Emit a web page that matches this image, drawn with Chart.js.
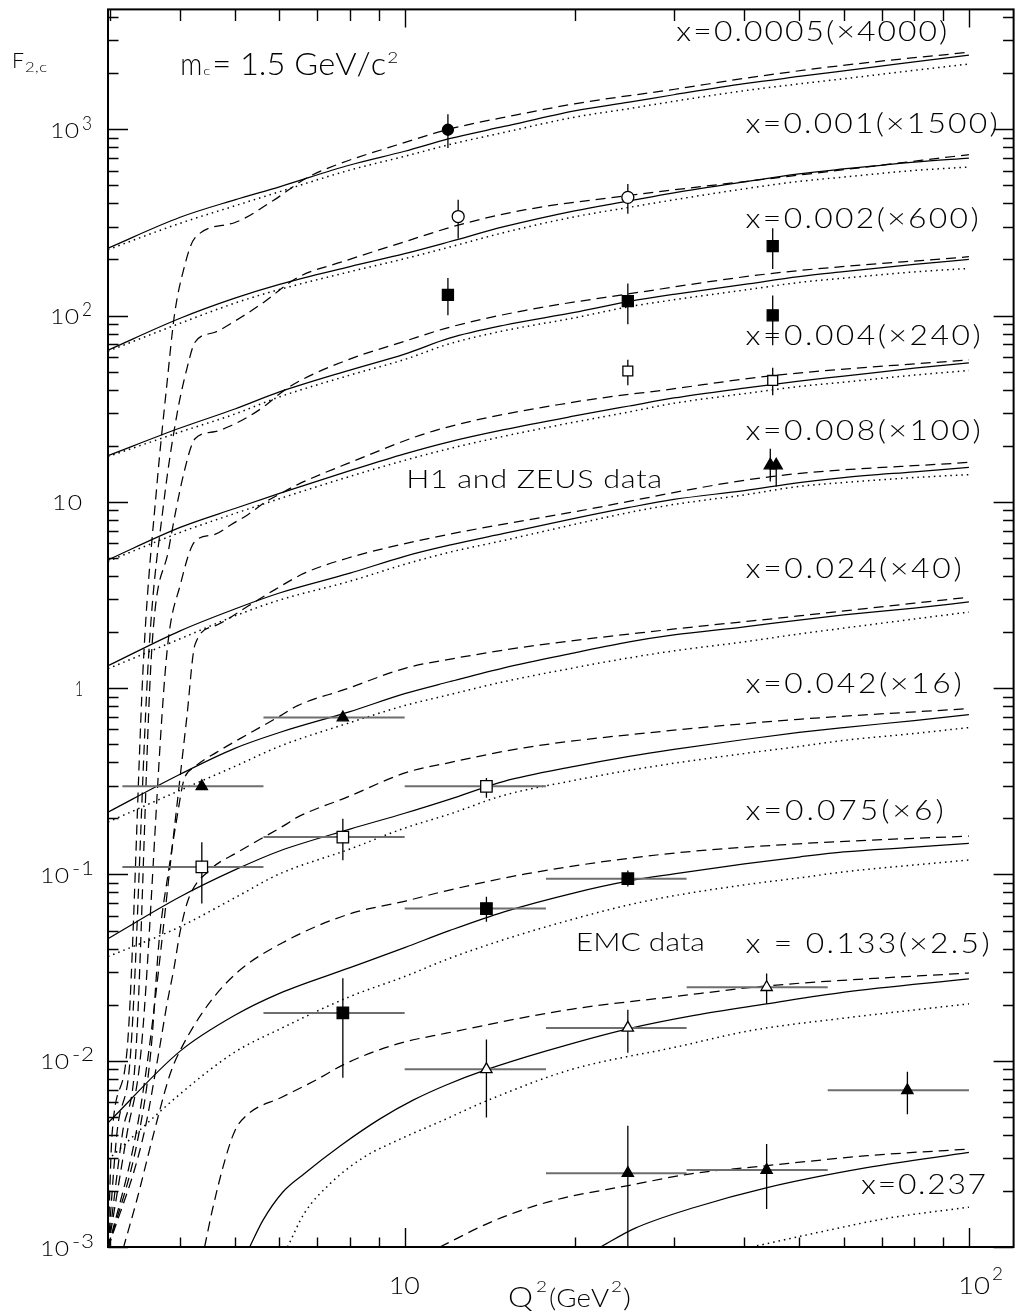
<!DOCTYPE html>
<html>
<head>
<meta charset="utf-8">
<script src="https://cdn.jsdelivr.net/npm/chart.js@4.4.1/dist/chart.umd.min.js"></script>
<style>
  html, body { margin: 0; padding: 0; background: #fff; }
  canvas { display: block; }
</style>
</head>
<body>
<canvas id="chart" width="1023" height="1315" style="width:1023px;height:1315px"></canvas>
<script>
// Q^2 grid (GeV^2) shared by the solid and dotted curves
const Q2 = [2.98, 4, 5, 6, 8, 10, 12, 15, 20, 25, 30, 40, 50, 60, 80, 100];

// x = 0.0005 (x4000)
const sol0005 = [230, 337, 418, 491, 643, 762, 890, 1035, 1255, 1399, 1532, 1757, 1921, 2061, 2300, 2504];
const dot0005 = [226, 313, 388, 462, 604, 716, 827, 962, 1161, 1291, 1413, 1611, 1752, 1867, 2072, 2241];
const dashQ0005 = [2.98, 3.03, 3.22, 3.45, 3.64, 3.79, 3.91, 4.07, 4.24, 4.99, 5.84, 6.70, 7.56, 9.68, 12.0, 15.7, 20.0, 30.1, 41.4, 59.8, 100];
const dash0005 = [0.00098, 0.00405, 0.01126, 1.55, 12.5, 42.9, 101.6, 183, 259, 315, 413, 548, 643, 823, 1002, 1191, 1370, 1640, 1905, 2203, 2592];

// x = 0.001 (x1500)
const sol001 = [65.2, 96.7, 124, 147, 183, 215, 249, 300, 365, 413, 456, 522, 576, 612, 667, 701];
const dot001 = [64.4, 90.9, 116.6, 138, 172, 202, 233, 279, 339, 381, 418, 479, 525, 554, 601, 627];
const dashQ001 = [2.98, 3.09, 3.27, 3.52, 3.74, 3.95, 4.11, 4.25, 4.61, 5.13, 5.56, 6.46, 7.78, 10, 12.49, 16.38, 24.86, 44.5, 100];
const dash001 = [0.00098, 0.00405, 0.01126, 1.55, 9.80, 29.7, 51.6, 71.9, 81.4, 97.9, 114.9, 160, 195, 249, 307, 370, 441, 544, 731];

// x = 0.002 (x600)
const sol002 = [17.7, 24.9, 31.5, 38.9, 51.0, 62.1, 75.6, 88.7, 104, 119, 130, 147, 162, 172, 188, 200];
const dot002 = [17.5, 23.7, 29.6, 36.6, 47.9, 58.1, 70.5, 82.9, 97.2, 111.6, 121.5, 137, 150.5, 158.8, 171.5, 179];
const dashQ002 = [2.98, 3.16, 3.34, 3.56, 3.82, 4.06, 4.25, 4.61, 4.93, 5.28, 5.65, 6.03, 6.46, 7.91, 10, 12.0, 16.38, 24.86, 44.5, 100];
const dash002 = [0.00098, 0.00405, 0.01126, 1.55, 5.63, 14.2, 21.8, 23.8, 25.7, 28.6, 32.7, 38.4, 44.0, 57.7, 72.8, 86.5, 106.7, 130.5, 168, 207];

// x = 0.004 (x240)
const sol004 = [4.88, 7.29, 9.21, 11.1, 14.7, 18.1, 21.0, 24.4, 28.9, 32.7, 36.1, 40.8, 44.5, 47.3, 52.2, 55.8];
const dot004 = [4.80, 6.85, 8.66, 10.4, 13.7, 16.7, 19.3, 22.5, 26.8, 30.4, 33.8, 38.1, 41.6, 43.9, 47.9, 50.7];
const dashQ004 = [2.98, 3.22, 3.41, 3.79, 4.01, 4.25, 4.61, 4.93, 5.28, 5.65, 6.03, 6.46, 7.91, 11.28, 19.69, 29.7, 44.6, 100];
const dash004 = [0.00098, 0.00405, 0.01126, 1.55, 3.66, 6.14, 6.69, 7.56, 8.56, 9.92, 11.08, 12.38, 16.03, 24.06, 34.1, 40.3, 47.5, 57.9];

// x = 0.008 (x100)
const sol008 = [1.318, 2.03, 2.66, 3.24, 4.14, 5.10, 5.85, 6.77, 8.15, 9.33, 10.3, 11.5, 12.7, 13.5, 14.5, 15.3];
const dot008 = [1.271, 1.84, 2.44, 2.97, 3.75, 4.62, 5.36, 6.21, 7.57, 8.77, 9.68, 10.9, 12.1, 12.7, 13.5, 14.0];
const dashQ008 = [2.98, 3.34, 3.52, 3.90, 4.11, 4.25, 4.61, 5.28, 5.88, 6.64, 7.91, 11.28, 19.69, 44.6, 100];
const dash008 = [0.00098, 0.00405, 0.01126, 0.169, 0.695, 1.713, 2.157, 2.76, 3.37, 4.14, 4.98, 6.45, 8.77, 13.66, 16.3];

// x = 0.024 (x40)
const sol024 = [0.216, 0.345, 0.475, 0.578, 0.748, 0.934, 1.082, 1.286, 1.547, 1.771, 1.930, 2.13, 2.32, 2.47, 2.69, 2.90];
const dot024 = [0.191, 0.283, 0.380, 0.487, 0.653, 0.806, 0.922, 1.083, 1.287, 1.454, 1.585, 1.772, 1.953, 2.10, 2.35, 2.56];
const dashQ024 = [2.98, 3.38, 3.55, 3.67, 3.82, 3.95, 4.06, 4.24, 4.64, 5.34, 6.03, 6.46, 7.81, 10.08, 11.85, 16.38, 28.5, 49.9, 100];
const dash024 = [0.00098, 0.00405, 0.01126, 0.0436, 0.107, 0.203, 0.320, 0.376, 0.452, 0.578, 0.712, 0.806, 0.981, 1.286, 1.419, 1.665, 2.04, 2.44, 3.08];

// x = 0.042 (x16)
const sol042 = [0.0452, 0.0759, 0.1057, 0.1336, 0.1751, 0.213, 0.253, 0.316, 0.380, 0.430, 0.469, 0.530, 0.578, 0.614, 0.670, 0.721];
const dot042 = [0.0362, 0.0524, 0.0749, 0.1006, 0.1369, 0.1773, 0.2106, 0.266, 0.320, 0.362, 0.395, 0.446, 0.486, 0.524, 0.571, 0.614];
const dashQ042 = [2.98, 3.45, 3.67, 3.79, 3.90, 4.00, 4.14, 4.54, 5.07, 6.13, 6.46, 7.91, 10.08, 11.85, 16.38, 28.5, 49.9, 100];
const dash042 = [0.00098, 0.00405, 0.01126, 0.0201, 0.0313, 0.0493, 0.0740, 0.107, 0.132, 0.184, 0.203, 0.260, 0.353, 0.395, 0.480, 0.585, 0.680, 0.776];

// x = 0.075 (x6)
const sol075 = [0.00464, 0.01126, 0.01754, 0.0230, 0.0316, 0.0405, 0.0499, 0.0630, 0.0797, 0.0923, 0.1006, 0.1138, 0.124, 0.132, 0.140, 0.147];
const dot075 = [0.00294, 0.00663, 0.01112, 0.01476, 0.0221, 0.0283, 0.0354, 0.0447, 0.0578, 0.0687, 0.0768, 0.0879, 0.0958, 0.1032, 0.1124, 0.1195];
const dashQ075 = [3.17, 3.35, 3.59, 3.84, 4.02, 4.49, 5.07, 6.13, 7.91, 10.08, 11.85, 16.38, 28.5, 49.9, 100];
const dash075 = [0.00098, 0.001776, 0.00405, 0.00848, 0.01168, 0.0201, 0.0301, 0.0436, 0.0608, 0.0722, 0.0817, 0.1006, 0.128, 0.146, 0.1607];

// x = 0.133 (x2.5)
const solQ133 = [5.313, 5.607, 6.078, 6.637, 7.695, 9.04, 10.37, 11.85, 13.96, 17.77, 24.86, 32.6, 43.8, 59.8, 100];
const sol133 = [0.001, 0.001389, 0.001968, 0.002476, 0.003497, 0.004873, 0.006159, 0.007408, 0.00895, 0.01126, 0.01484, 0.01753, 0.0202, 0.0233, 0.0275];
const dotQ133 = [6.20, 6.637, 7.38, 8.46, 9.68, 11.85, 13.96, 19.70, 30.1, 41.4, 59.8, 100];
const dot133 = [0.001, 0.001514, 0.00219, 0.00303, 0.00372, 0.00487, 0.006085, 0.00895, 0.0118, 0.01458, 0.0169, 0.0202];
const dashQ133 = [4.42, 4.56, 4.80, 5.00, 5.28, 6.03, 6.91, 7.91, 9.68, 11.85, 19.70, 30.1, 43.8, 100];
const dash133 = [0.001, 0.00157, 0.00291, 0.00420, 0.00518, 0.00633, 0.00778, 0.00974, 0.01227, 0.01405, 0.01888, 0.0221, 0.0252, 0.0296];

// x = 0.237
const solQ237 = [22.24, 25.57, 32.6, 43.9, 65.9, 100];
const sol237 = [0.001, 0.001259, 0.00163, 0.002085, 0.002667, 0.00322];
const dotQ237 = [41.2, 56.2, 71.5, 100];
const dot237 = [0.001, 0.001228, 0.001424, 0.001636];
const dashQ237 = [11.54, 14.44, 18.34, 24.88, 32.13, 43.9, 66.0, 100];
const dash237 = [0.001, 0.001389, 0.001776, 0.002137, 0.002468, 0.002734, 0.00309, 0.003357];

// H1 and ZEUS data (vertical errors)
const h1FilledCircle = [{ x: 11.93, y: 994, yMin: 793, yMax: 1205 }];
const h1OpenCircle = [
  { x: 12.44, y: 340, yMin: 259, yMax: 418 },
  { x: 24.86, y: 431, yMin: 352, yMax: 509 }
];
const h1FilledSquare = [
  { x: 11.93, y: 129, yMin: 100.3, yMax: 159 },
  { x: 24.86, y: 119.5, yMin: 89.8, yMax: 148.7 },
  { x: 44.9, y: 236, yMin: 177.6, yMax: 294 },
  { x: 44.9, y: 100.3, yMin: 69.3, yMax: 128.3 }
];
const h1OpenSquare = [
  { x: 24.86, y: 50.4, yMin: 42.2, yMax: 57.9 },
  { x: 44.9, y: 44.85, yMin: 37.3, yMax: 52.5 }
];
const h1FilledTriangle = [
  { x: 44.46, y: 15.7, yMin: 12.84, yMax: 19.3 },
  { x: 45.55, y: 15.7, yMin: 12.08, yMax: 17.05 }
];

// EMC data (Q^2 bins and vertical errors)
const emcFilledTriangle = [
  { x: 4.37, y: 0.297, xMin: 3.16, xMax: 5.62 },
  { x: 7.77, y: 0.695, xMin: 5.62, xMax: 10 },
  { x: 24.86, y: 0.00249, xMin: 17.8, xMax: 31.6, yMin: 0.0004, yMax: 0.00447 },
  { x: 43.8, y: 0.00259, xMin: 31.6, xMax: 56.2, yMin: 0.0016, yMax: 0.00357 },
  { x: 77.8, y: 0.00694, xMin: 56.2, xMax: 100, yMin: 0.00516, yMax: 0.00872 }
];
const emcOpenSquare = [
  { x: 4.37, y: 0.1097, xMin: 3.16, xMax: 5.62, yMin: 0.0698, yMax: 0.149 },
  { x: 7.77, y: 0.1587, xMin: 5.62, xMax: 10, yMin: 0.119, yMax: 0.199 },
  { x: 13.96, y: 0.297, xMin: 10, xMax: 17.8, yMin: 0.258, yMax: 0.329 }
];
const emcFilledSquare = [
  { x: 7.77, y: 0.01804, xMin: 5.62, xMax: 10, yMin: 0.0081, yMax: 0.0277 },
  { x: 13.96, y: 0.0656, xMin: 10, xMax: 17.8, yMin: 0.0557, yMax: 0.0759 },
  { x: 24.86, y: 0.0949, xMin: 17.8, xMax: 31.6, yMin: 0.0862, yMax: 0.105 }
];
const emcOpenTriangle = [
  { x: 13.96, y: 0.00899, xMin: 10, xMax: 17.8, yMin: 0.00495, yMax: 0.0130 },
  { x: 24.86, y: 0.0150, xMin: 17.8, xMax: 31.6, yMin: 0.01102, yMax: 0.0188 },
  { x: 43.8, y: 0.0248, xMin: 31.6, xMax: 56.2, yMin: 0.0202, yMax: 0.0294 }
];

// axis ticks
const xMajor = [10, 100];
const xMinor = [3, 4, 5, 6, 7, 8, 9, 20, 30, 40, 50, 60, 70, 80, 90];
const yExp = [-3, -2, -1, 0, 1, 2, 3];

// labels inside the frame: left edge (Q^2), baseline (F2c), width in px
const notes = [
  { text: 'x=0.0005(\u00d74000)', q2: 30.3, f: 2995, w: 271, size: 27 },
  { text: 'x=0.001(\u00d71500)', q2: 40.2, f: 953, w: 252, size: 27 },
  { text: 'x=0.002(\u00d7600)', q2: 40.2, f: 296, w: 233, size: 27 },
  { text: 'x=0.004(\u00d7240)', q2: 40.2, f: 69.3, w: 235, size: 27 },
  { text: 'x=0.008(\u00d7100)', q2: 40.2, f: 21.5, w: 235, size: 27 },
  { text: 'H1 and ZEUS data', q2: 10.06, f: 11.92, w: 256, size: 26 },
  { text: 'x=0.024(\u00d740)', q2: 40.2, f: 3.89, w: 216, size: 27 },
  { text: 'x=0.042(\u00d716)', q2: 40.2, f: 0.945, w: 216, size: 27 },
  { text: 'x=0.075(\u00d76)', q2: 40.2, f: 0.1956, w: 198, size: 27 },
  { text: 'EMC data', q2: 20.1, f: 0.039, w: 129, size: 26 },
  { text: 'x = 0.133(\u00d72.5)', q2: 40.2, f: 0.038, w: 244, size: 27 },
  { text: 'x=0.237', q2: 64.4, f: 0.001936, w: 125, size: 27 }
];

const FONT = '"Lato", "Open Sans", "DejaVu Sans", sans-serif';

function pts(q, f) {
  return q.map((x, i) => ({ x: x, y: f[i] }));
}

function curve(q, f, style) {
  return {
    data: pts(q, f),
    showLine: true,
    pointRadius: 0,
    pointHoverRadius: 0,
    borderColor: '#000',
    borderWidth: style === 'dot' ? 1.5 : 1.25,
    borderDash: style === 'dash' ? [10, 6] : (style === 'dot' ? [1.5, 4] : []),
    cubicInterpolationMode: 'monotone',
    fill: false,
    order: 2
  };
}

function markers(data, style, filled, radius) {
  return {
    data: data,
    bars: true,
    showLine: false,
    pointStyle: style,
    pointRadius: radius,
    pointHoverRadius: radius,
    pointBorderWidth: 1.3,
    pointBorderColor: '#000',
    pointBackgroundColor: filled ? '#000' : '#fff',
    order: 0
  };
}

const datasets = [
  markers(h1FilledCircle, 'circle', true, 5.5),
  markers(h1OpenCircle, 'circle', false, 6),
  markers(h1FilledSquare, 'rect', true, 7.8),
  markers(h1OpenSquare, 'rect', false, 7),
  markers(h1FilledTriangle, 'triangle', true, 7),
  markers(emcFilledTriangle, 'triangle', true, 6.5),
  markers(emcOpenSquare, 'rect', false, 8.1),
  markers(emcFilledSquare, 'rect', true, 8.1),
  markers(emcOpenTriangle, 'triangle', false, 6.5),

  curve(Q2, sol0005, 'solid'), curve(Q2, dot0005, 'dot'), curve(dashQ0005, dash0005, 'dash'),
  curve(Q2, sol001, 'solid'), curve(Q2, dot001, 'dot'), curve(dashQ001, dash001, 'dash'),
  curve(Q2, sol002, 'solid'), curve(Q2, dot002, 'dot'), curve(dashQ002, dash002, 'dash'),
  curve(Q2, sol004, 'solid'), curve(Q2, dot004, 'dot'), curve(dashQ004, dash004, 'dash'),
  curve(Q2, sol008, 'solid'), curve(Q2, dot008, 'dot'), curve(dashQ008, dash008, 'dash'),
  curve(Q2, sol024, 'solid'), curve(Q2, dot024, 'dot'), curve(dashQ024, dash024, 'dash'),
  curve(Q2, sol042, 'solid'), curve(Q2, dot042, 'dot'), curve(dashQ042, dash042, 'dash'),
  curve(Q2, sol075, 'solid'), curve(Q2, dot075, 'dot'), curve(dashQ075, dash075, 'dash'),
  curve(solQ133, sol133, 'solid'), curve(dotQ133, dot133, 'dot'), curve(dashQ133, dash133, 'dash'),
  curve(solQ237, sol237, 'solid'), curve(dotQ237, dot237, 'dot'), curve(dashQ237, dash237, 'dash')
];

// error bars, drawn just before each marker dataset
const errorBars = {
  id: 'errorBars',
  beforeDatasetDraw(chart, args) {
    const ds = chart.data.datasets[args.index];
    if (!ds.bars) return;
    const { ctx, chartArea: a } = chart;
    const xs = chart.scales.x, ys = chart.scales.y;
    ctx.save();
    ctx.beginPath();
    ctx.rect(a.left, a.top, a.right - a.left, a.bottom - a.top);
    ctx.clip();
    ds.data.forEach(p => {
      const px = xs.getPixelForValue(p.x);
      const py = ys.getPixelForValue(p.y);
      if (p.xMin !== undefined) {
        ctx.strokeStyle = '#6e6e6e';
        ctx.lineWidth = 2;
        ctx.beginPath();
        ctx.moveTo(xs.getPixelForValue(p.xMin), py);
        ctx.lineTo(xs.getPixelForValue(p.xMax), py);
        ctx.stroke();
      }
      if (p.yMin !== undefined) {
        ctx.strokeStyle = '#000';
        ctx.lineWidth = 1.3;
        ctx.beginPath();
        ctx.moveTo(px, ys.getPixelForValue(p.yMin));
        ctx.lineTo(px, ys.getPixelForValue(p.yMax));
        ctx.stroke();
      }
    });
    ctx.restore();
  }
};

// wide, thin lettering: each glyph stretched sideways, the rest of the width as spacing
function wideText(ctx, str, x, y, width, stretch) {
  const chars = [...str];
  let s = stretch || 1.18;
  const raw = chars.map(c => ctx.measureText(c).width);
  let total = raw.reduce((t, v) => t + v, 0);
  if (chars.length === 1) s = width / total;
  if (total * s > width) s = width / total;
  const gap = chars.length > 1 ? (width - total * s) / (chars.length - 1) : 0;
  let cx = x;
  chars.forEach((c, i) => {
    ctx.save();
    ctx.translate(cx, y);
    ctx.scale(s, 1);
    ctx.fillText(c, 0, 0);
    ctx.restore();
    cx += raw[i] * s + gap;
  });
}

// frame, inward ticks, tick labels and texts
const decorations = {
  id: 'decorations',
  afterDraw(chart) {
    const { ctx, chartArea: a } = chart;
    const xs = chart.scales.x, ys = chart.scales.y;
    ctx.save();
    ctx.strokeStyle = '#000';
    ctx.lineWidth = 1.4;
    ctx.beginPath();
    xMajor.concat(xMinor).forEach(v => {
      const px = Math.round(xs.getPixelForValue(v)) + 0.5;
      const major = xMajor.includes(v);
      ctx.moveTo(px, a.bottom);
      ctx.lineTo(px, a.bottom - (major ? 19 : 9.5));
      ctx.moveTo(px, a.top);
      ctx.lineTo(px, a.top + (major ? 18 : 11.5));
    });
    yExp.forEach(e => {
      for (let k = 1; k <= 9; k++) {
        const v = k * Math.pow(10, e);
        if (v > ys.max || v < ys.min) continue;
        const py = Math.round(ys.getPixelForValue(v)) + 0.5;
        const len = k === 1 ? 20 : 10.5;
        ctx.moveTo(a.left, py);
        ctx.lineTo(a.left + len, py);
        ctx.moveTo(a.right, py);
        ctx.lineTo(a.right - len, py);
      }
    });
    ctx.stroke();
    ctx.lineWidth = 2;
    ctx.strokeRect(a.left, a.top, a.right - a.left, a.bottom - a.top);

    ctx.fillStyle = '#000';
    ctx.textAlign = 'left';
    ctx.textBaseline = 'alphabetic';

    // y tick labels
    yExp.forEach(e => {
      const py = ys.getPixelForValue(Math.pow(10, e));
      ctx.font = '300 21px ' + FONT;
      if (e === 0) {
        wideText(ctx, '1', 75, py + 8, 8);
      } else if (e === 1) {
        wideText(ctx, '10', 52, py + 8, 30);
      } else {
        const base = e > 0 ? 50 : 40;
        wideText(ctx, '10', base, py + 8.5, 29);
        ctx.font = '300 19px ' + FONT;
        wideText(ctx, String(e), base + 32, py + 0.5, e > 0 ? 10 : 22);
      }
    });

    // x tick labels
    ctx.font = '300 24px ' + FONT;
    const p10 = xs.getPixelForValue(10);
    wideText(ctx, '10', p10 - 16, 1294, 31);
    const p100 = xs.getPixelForValue(100);
    wideText(ctx, '10', p100 - 11, 1294, 32);
    ctx.font = '300 17px ' + FONT;
    wideText(ctx, '2', p100 + 23, 1280, 11);

    // axis titles
    ctx.font = '300 27px ' + FONT;
    wideText(ctx, 'Q', 508, 1307, 25);
    ctx.font = '300 16px ' + FONT;
    wideText(ctx, '2', 536, 1292, 11);
    ctx.font = '300 26px ' + FONT;
    wideText(ctx, '(GeV', 549, 1307, 60);
    ctx.font = '300 16px ' + FONT;
    wideText(ctx, '2', 611, 1292, 11);
    ctx.font = '300 26px ' + FONT;
    wideText(ctx, ')', 623, 1307, 8);

    ctx.font = '300 21px ' + FONT;
    wideText(ctx, 'F', 12, 68, 12);
    ctx.font = '300 14px ' + FONT;
    wideText(ctx, '2,c', 25, 72, 22);

    // m_c label
    const mx = xs.getPixelForValue(4.0);
    const my = ys.getPixelForValue(1946);
    ctx.font = '300 31px ' + FONT;
    wideText(ctx, 'm', mx, my, 22);
    ctx.font = '300 12px ' + FONT;
    wideText(ctx, 'c', mx + 23, my, 7);
    ctx.font = '300 31px ' + FONT;
    wideText(ctx, '= 1.5 GeV/c', mx + 32, my, 174);
    ctx.font = '300 16px ' + FONT;
    wideText(ctx, '2', mx + 207, my - 12.5, 11);

    // series and data labels
    notes.forEach(n => {
      ctx.font = '300 ' + n.size + 'px ' + FONT;
      wideText(ctx, n.text, xs.getPixelForValue(n.q2), ys.getPixelForValue(n.f), n.w);
    });
    ctx.restore();
  }
};

new Chart(document.getElementById('chart'), {
  type: 'scatter',
  data: { datasets: datasets },
  options: {
    responsive: false,
    animation: false,
    events: [],
    layout: { padding: { left: 108, right: 1, top: 4, bottom: 68 } },
    plugins: {
      legend: { display: false },
      tooltip: { enabled: false }
    },
    scales: {
      x: { type: 'logarithmic', min: 2.98, max: 120, display: false },
      y: { type: 'logarithmic', min: 0.001, max: 4400, display: false }
    }
  },
  plugins: [errorBars, decorations]
});
</script>
</body>
</html>
